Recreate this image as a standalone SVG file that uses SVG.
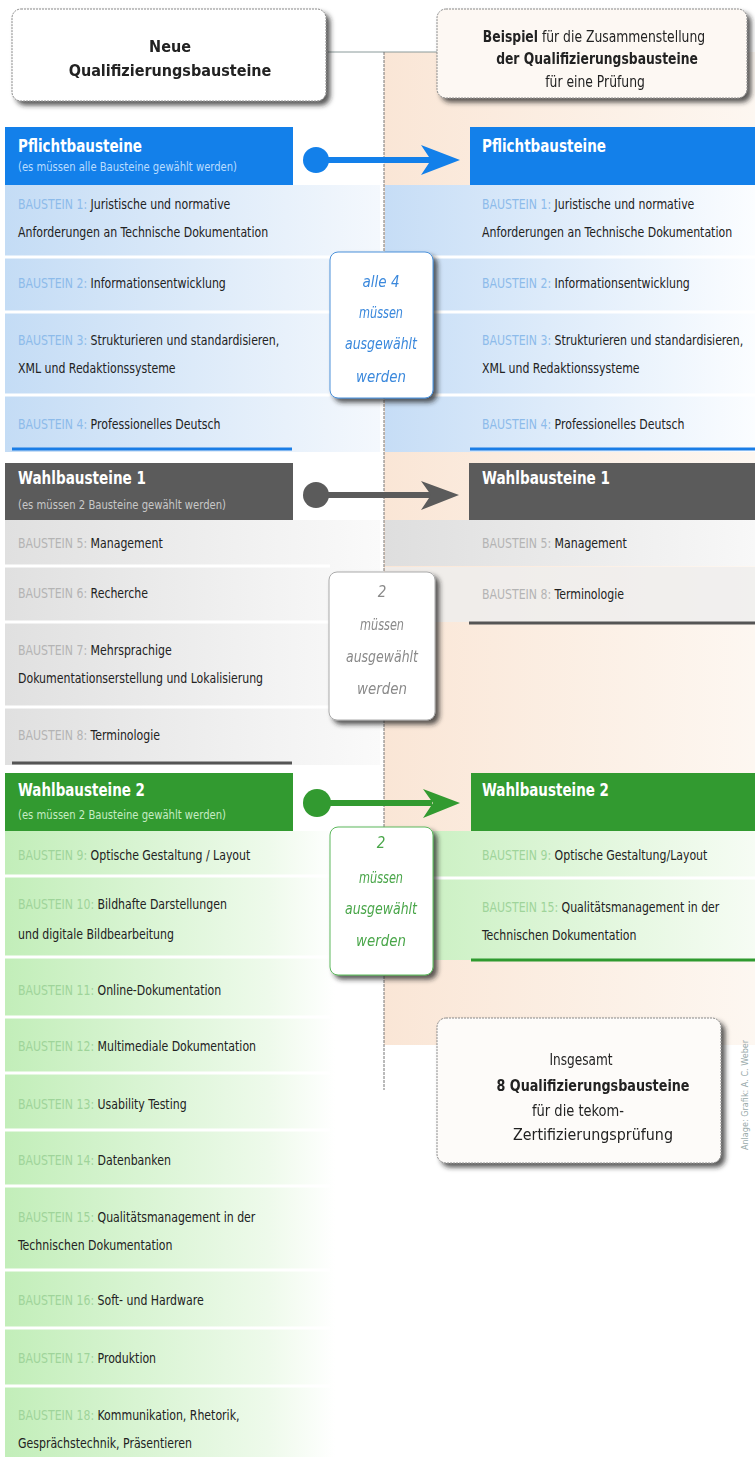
<svg xmlns="http://www.w3.org/2000/svg" width="755" height="1457" viewBox="0 0 755 1457">
<defs>
<style>
.t{font-family:"DejaVu Sans Condensed","Liberation Sans",sans-serif;font-size:14px;fill:#222}
.h{font-family:"DejaVu Sans Condensed","Liberation Sans",sans-serif;font-size:17px;font-weight:bold;fill:#fff}
.sub{font-family:"DejaVu Sans Condensed","Liberation Sans",sans-serif;font-size:12px}
.pb{fill:#8dbbea}
.pg{fill:#b4b4b4}
.pgr{fill:#9fd49a}
.note{font-family:"DejaVu Sans Condensed","Liberation Sans",sans-serif;font-size:15px;font-style:italic;text-anchor:middle}
.sep{stroke:#fff;stroke-width:3}
.big{font-family:"DejaVu Sans Condensed","Liberation Sans",sans-serif;font-size:16px;fill:#222;text-anchor:middle}
</style>
<linearGradient id="gBlueL" x1="0" x2="1" y1="0" y2="0"><stop offset="0" stop-color="#c4dcf5"/><stop offset="1" stop-color="#f4f8fd"/></linearGradient>
<linearGradient id="gBlueR" x1="0" x2="1" y1="0" y2="0"><stop offset="0" stop-color="#c6ddf6"/><stop offset="1" stop-color="#fbfdff"/></linearGradient>
<linearGradient id="gGrayL" x1="0" x2="1" y1="0" y2="0"><stop offset="0" stop-color="#e0e0e0"/><stop offset="1" stop-color="#fafafa"/></linearGradient>
<linearGradient id="gGrayR" x1="0" x2="1" y1="0" y2="0"><stop offset="0" stop-color="#dedede"/><stop offset="1" stop-color="#f8f8f8"/></linearGradient>
<linearGradient id="gGreenL" x1="0" x2="1" y1="0" y2="0"><stop offset="0" stop-color="#c2eeb9"/><stop offset="0.8" stop-color="#eefaeb"/><stop offset="1" stop-color="#ffffff"/></linearGradient>
<linearGradient id="gGreenR" x1="0" x2="1" y1="0" y2="0"><stop offset="0" stop-color="#c6efbd"/><stop offset="1" stop-color="#f6fcf4"/></linearGradient>
<linearGradient id="gPeach" x1="0" x2="1" y1="0" y2="0"><stop offset="0" stop-color="#fae6d6"/><stop offset="1" stop-color="#fdf7f1"/></linearGradient>
<filter id="sh" x="-10%" y="-10%" width="130%" height="140%"><feDropShadow dx="4" dy="4" stdDeviation="2.5" flood-color="#222" flood-opacity="0.75"/></filter>
</defs>

<rect width="755" height="1457" fill="#fff"/>
<rect x="384" y="52" width="371" height="993" fill="url(#gPeach)"/>

<g id="connectors">
<line x1="328" y1="52" x2="437" y2="52" stroke="#8a9a9a" stroke-width="1"/>
<line x1="384" y1="52" x2="384" y2="1090" stroke="#777" stroke-width="1" stroke-dasharray="3,1"/>
</g>

<g id="head-left" filter="url(#sh)">
<rect x="12" y="9" width="314" height="92" rx="9" fill="#fff" stroke="#888" stroke-dasharray="2,1"/>
<text x="170" y="52" text-anchor="middle" style="font-family:'DejaVu Sans Condensed','Liberation Sans',sans-serif;font-size:16px;font-weight:bold;fill:#222">Neue</text>
<text x="170" y="76" text-anchor="middle" style="font-family:'DejaVu Sans Condensed','Liberation Sans',sans-serif;font-size:16px;font-weight:bold;fill:#222">Qualifizierungsbausteine</text>
</g>

<g id="head-right" filter="url(#sh)">
<rect x="437" y="9" width="310" height="89" rx="9" fill="#fdf8f3" stroke="#888" stroke-dasharray="2,1"/>
<g transform="translate(594,0) scale(0.86,1)">
<text x="0" y="42" class="big"><tspan font-weight="bold">Beispiel</tspan> für die Zusammenstellung</text>
<text x="3.5" y="64" class="big" font-weight="bold">der Qualifizierungsbausteine</text>
<text x="1.2" y="87" class="big">für eine Prüfung</text>
</g>
</g>

<g id="pflicht-left">
<rect x="5" y="185" width="375" height="267" fill="url(#gBlueL)"/>
<rect x="5" y="127" width="288" height="58" fill="#1380ea"/>
<text x="18" y="152" class="h" textLength="124" lengthAdjust="spacingAndGlyphs">Pflichtbausteine</text>
<text x="18" y="171" class="sub" fill="#b9dcff" textLength="219" lengthAdjust="spacingAndGlyphs">(es müssen alle Bausteine gewählt werden)</text>
<line x1="5" y1="257" x2="330" y2="257" class="sep"/>
<line x1="5" y1="312" x2="330" y2="312" class="sep"/>
<line x1="5" y1="395" x2="330" y2="395" class="sep"/>
<line x1="12" y1="449" x2="292" y2="449" stroke="#1a7de6" stroke-width="3"/>
<g transform="translate(18,0) scale(0.87,1)">
<text x="0" y="209" class="t"><tspan class="pb">BAUSTEIN 1:</tspan> Juristische und normative</text>
<text x="0" y="237" class="t">Anforderungen an Technische Dokumentation</text>
<text x="0" y="288" class="t"><tspan class="pb">BAUSTEIN 2:</tspan> Informationsentwicklung</text>
<text x="0" y="345" class="t"><tspan class="pb">BAUSTEIN 3:</tspan> Strukturieren und standardisieren,</text>
<text x="0" y="373" class="t">XML und Redaktionssysteme</text>
<text x="0" y="429" class="t"><tspan class="pb">BAUSTEIN 4:</tspan> Professionelles Deutsch</text>
</g>
</g>

<g id="pflicht-right">
<rect x="385" y="185" width="370" height="267" fill="url(#gBlueR)"/>
<rect x="470" y="127" width="285" height="58" fill="#1380ea"/>
<text x="482" y="152" class="h" textLength="124" lengthAdjust="spacingAndGlyphs">Pflichtbausteine</text>
<line x1="385" y1="257" x2="755" y2="257" class="sep"/>
<line x1="385" y1="312" x2="755" y2="312" class="sep"/>
<line x1="385" y1="395" x2="755" y2="395" class="sep"/>
<line x1="470" y1="449" x2="755" y2="449" stroke="#1a7de6" stroke-width="3"/>
<g transform="translate(482,0) scale(0.87,1)">
<text x="0" y="209" class="t"><tspan class="pb">BAUSTEIN 1:</tspan> Juristische und normative</text>
<text x="0" y="237" class="t">Anforderungen an Technische Dokumentation</text>
<text x="0" y="288" class="t"><tspan class="pb">BAUSTEIN 2:</tspan> Informationsentwicklung</text>
<text x="0" y="345" class="t"><tspan class="pb">BAUSTEIN 3:</tspan> Strukturieren und standardisieren,</text>
<text x="0" y="373" class="t">XML und Redaktionssysteme</text>
<text x="0" y="429" class="t"><tspan class="pb">BAUSTEIN 4:</tspan> Professionelles Deutsch</text>
</g>
</g>

<g id="wahl1-left">
<rect x="5" y="520" width="375" height="245" fill="url(#gGrayL)"/>
<rect x="5" y="463" width="288" height="57" fill="#5b5b5b"/>
<text x="18" y="484" class="h" textLength="128" lengthAdjust="spacingAndGlyphs">Wahlbausteine 1</text>
<text x="18" y="509" class="sub" fill="#c8c8c8" textLength="208" lengthAdjust="spacingAndGlyphs">(es müssen 2 Bausteine gewählt werden)</text>
<line x1="5" y1="566" x2="330" y2="566" class="sep"/>
<line x1="5" y1="622" x2="330" y2="622" class="sep"/>
<line x1="5" y1="707" x2="330" y2="707" class="sep"/>
<line x1="12" y1="763" x2="292" y2="763" stroke="#555" stroke-width="3"/>
<g transform="translate(18,0) scale(0.87,1)">
<text x="0" y="548" class="t"><tspan class="pg">BAUSTEIN 5:</tspan> Management</text>
<text x="0" y="598" class="t"><tspan class="pg">BAUSTEIN 6:</tspan> Recherche</text>
<text x="0" y="655" class="t"><tspan class="pg">BAUSTEIN 7:</tspan> Mehrsprachige</text>
<text x="0" y="683" class="t">Dokumentationserstellung und Lokalisierung</text>
<text x="0" y="740" class="t"><tspan class="pg">BAUSTEIN 8:</tspan> Terminologie</text>
</g>
</g>

<g id="wahl1-right">
<rect x="385" y="520" width="370" height="46" fill="url(#gGrayR)"/>
<rect x="385" y="567" width="370" height="55" fill="#ededed" opacity="0.8"/>
<rect x="469" y="463" width="286" height="57" fill="#5b5b5b"/>
<text x="482" y="484" class="h" textLength="128" lengthAdjust="spacingAndGlyphs">Wahlbausteine 1</text>
<line x1="469" y1="623" x2="755" y2="623" stroke="#555" stroke-width="3"/>
<g transform="translate(482,0) scale(0.87,1)">
<text x="0" y="548" class="t"><tspan class="pg">BAUSTEIN 5:</tspan> Management</text>
<text x="0" y="599" class="t"><tspan class="pg">BAUSTEIN 8:</tspan> Terminologie</text>
</g>
</g>

<g id="wahl2-left">
<rect x="5" y="831" width="330" height="626" fill="url(#gGreenL)"/>
<rect x="5" y="773" width="288" height="58" fill="#329a30"/>
<text x="18" y="796" class="h" textLength="127" lengthAdjust="spacingAndGlyphs">Wahlbausteine 2</text>
<text x="18" y="819" class="sub" fill="#c6ecc4" textLength="208" lengthAdjust="spacingAndGlyphs">(es müssen 2 Bausteine gewählt werden)</text>
<line x1="5" y1="876" x2="330" y2="876" class="sep"/>
<line x1="5" y1="957" x2="330" y2="957" class="sep"/>
<line x1="5" y1="1017" x2="330" y2="1017" class="sep"/>
<line x1="5" y1="1073" x2="330" y2="1073" class="sep"/>
<line x1="5" y1="1130" x2="330" y2="1130" class="sep"/>
<line x1="5" y1="1186" x2="330" y2="1186" class="sep"/>
<line x1="5" y1="1270" x2="330" y2="1270" class="sep"/>
<line x1="5" y1="1328" x2="330" y2="1328" class="sep"/>
<line x1="5" y1="1386" x2="330" y2="1386" class="sep"/>
<g transform="translate(18,0) scale(0.87,1)">
<text x="0" y="860" class="t"><tspan class="pgr">BAUSTEIN 9:</tspan> Optische Gestaltung / Layout</text>
<text x="0" y="909" class="t"><tspan class="pgr">BAUSTEIN 10:</tspan> Bildhafte Darstellungen</text>
<text x="0" y="939" class="t">und digitale Bildbearbeitung</text>
<text x="0" y="995" class="t"><tspan class="pgr">BAUSTEIN 11:</tspan> Online-Dokumentation</text>
<text x="0" y="1051" class="t"><tspan class="pgr">BAUSTEIN 12:</tspan> Multimediale Dokumentation</text>
<text x="0" y="1109" class="t"><tspan class="pgr">BAUSTEIN 13:</tspan> Usability Testing</text>
<text x="0" y="1165" class="t"><tspan class="pgr">BAUSTEIN 14:</tspan> Datenbanken</text>
<text x="0" y="1222" class="t"><tspan class="pgr">BAUSTEIN 15:</tspan> Qualitätsmanagement in der</text>
<text x="0" y="1250" class="t">Technischen Dokumentation</text>
<text x="0" y="1305" class="t"><tspan class="pgr">BAUSTEIN 16:</tspan> Soft- und Hardware</text>
<text x="0" y="1363" class="t"><tspan class="pgr">BAUSTEIN 17:</tspan> Produktion</text>
<text x="0" y="1420" class="t"><tspan class="pgr">BAUSTEIN 18:</tspan> Kommunikation, Rhetorik,</text>
<text x="0" y="1448" class="t">Gesprächstechnik, Präsentieren</text>
</g>
</g>

<g id="wahl2-right">
<rect x="385" y="831" width="370" height="129" fill="url(#gGreenR)"/>
<rect x="471" y="773" width="284" height="58" fill="#329a30"/>
<text x="482" y="796" class="h" textLength="127" lengthAdjust="spacingAndGlyphs">Wahlbausteine 2</text>
<line x1="385" y1="878" x2="755" y2="878" class="sep"/>
<line x1="471" y1="960" x2="755" y2="960" stroke="#2f9a2f" stroke-width="3"/>
<g transform="translate(482,0) scale(0.87,1)">
<text x="0" y="860" class="t"><tspan class="pgr">BAUSTEIN 9:</tspan> Optische Gestaltung/Layout</text>
<text x="0" y="912" class="t"><tspan class="pgr">BAUSTEIN 15:</tspan> Qualitätsmanagement in der</text>
<text x="0" y="940" class="t">Technischen Dokumentation</text>
</g>
</g>

<g id="arrows">
<circle cx="316" cy="160" r="13" fill="#1380ea"/>
<line x1="316" y1="160" x2="432" y2="160" stroke="#1380ea" stroke-width="6"/>
<polygon points="421,145 460,160 421,175 431,160" fill="#1380ea"/>
<circle cx="316" cy="495" r="13" fill="#5b5b5b"/>
<line x1="316" y1="495" x2="432" y2="495" stroke="#5b5b5b" stroke-width="6"/>
<polygon points="421,481 459,495 421,510 431,495" fill="#5b5b5b"/>
<circle cx="317" cy="803" r="14" fill="#329a30"/>
<line x1="317" y1="803" x2="432" y2="803" stroke="#329a30" stroke-width="6"/>
<polygon points="423,789 460,803 423,818 433,803" fill="#329a30"/>
</g>

<g id="note-pflicht" filter="url(#sh)">
<rect x="330" y="252" width="103" height="146" rx="8" fill="#fff" stroke="#4a90d9"/>
<text x="381" y="287" class="note" fill="#3a88dc">alle 4</text>
<text x="381" y="318" class="note" fill="#3a88dc" textLength="44" lengthAdjust="spacingAndGlyphs">müssen</text>
<text x="381" y="349" class="note" fill="#3a88dc" textLength="72" lengthAdjust="spacingAndGlyphs">ausgewählt</text>
<text x="381" y="382" class="note" fill="#3a88dc" textLength="50" lengthAdjust="spacingAndGlyphs">werden</text>
</g>

<g id="note-wahl1" filter="url(#sh)">
<rect x="329" y="572" width="106" height="148" rx="8" fill="#fff" stroke="#aaa"/>
<text x="382" y="597" class="note" fill="#8a8a8a">2</text>
<text x="382" y="630" class="note" fill="#8a8a8a" textLength="44" lengthAdjust="spacingAndGlyphs">müssen</text>
<text x="382" y="662" class="note" fill="#8a8a8a" textLength="72" lengthAdjust="spacingAndGlyphs">ausgewählt</text>
<text x="382" y="694" class="note" fill="#8a8a8a" textLength="50" lengthAdjust="spacingAndGlyphs">werden</text>
</g>

<g id="note-wahl2" filter="url(#sh)">
<rect x="330" y="827" width="103" height="148" rx="8" fill="#fff" stroke="#5cb85c"/>
<text x="381" y="848" class="note" fill="#4aa64a">2</text>
<text x="381" y="883" class="note" fill="#4aa64a" textLength="44" lengthAdjust="spacingAndGlyphs">müssen</text>
<text x="381" y="914" class="note" fill="#4aa64a" textLength="72" lengthAdjust="spacingAndGlyphs">ausgewählt</text>
<text x="381" y="946" class="note" fill="#4aa64a" textLength="50" lengthAdjust="spacingAndGlyphs">werden</text>
</g>

<g id="summary" filter="url(#sh)">
<rect x="437" y="1018" width="284" height="145" rx="9" fill="#fdfbf9" stroke="#888" stroke-dasharray="2,1"/>
<text x="581" y="1065" class="big" textLength="63" lengthAdjust="spacingAndGlyphs">Insgesamt</text>
<text x="593" y="1091" class="big" font-weight="bold" textLength="193" lengthAdjust="spacingAndGlyphs">8 Qualifizierungsbausteine</text>
<text x="578" y="1116" class="big" textLength="92" lengthAdjust="spacingAndGlyphs">für die tekom-</text>
<text x="593" y="1140" class="big" textLength="160" lengthAdjust="spacingAndGlyphs">Zertifizierungsprüfung</text>
</g>

<text transform="translate(748,1095) rotate(-90)" text-anchor="middle" style="font-family:'DejaVu Sans Condensed','Liberation Sans',sans-serif;font-size:9px;fill:#9aa">Anlage: Grafik: A. C. Weber</text>
</svg>
